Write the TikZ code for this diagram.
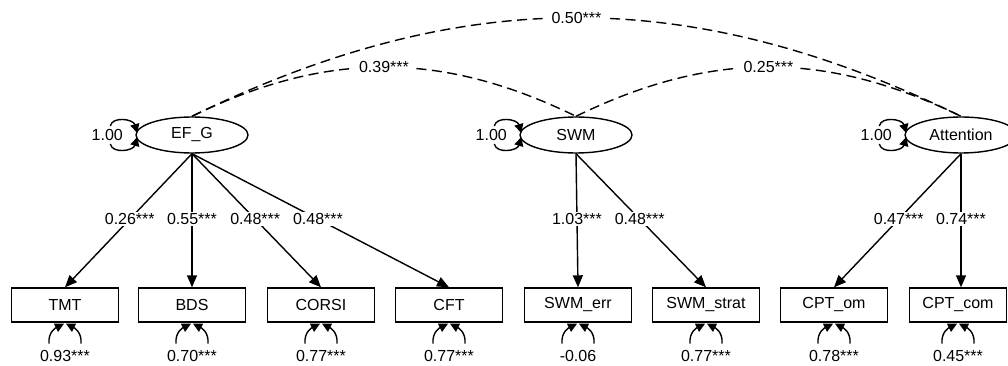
\documentclass[tikz,border=0pt]{standalone}
\usepackage{fontspec}
\setmainfont{Liberation Sans}
\usetikzlibrary{shapes.geometric,arrows.meta,calc}

% residual variance: two open arcs under a box, value printed below
\newcommand\resloop[2]{%
  \draw[resid] ($(#1.south)+(-16,21)$) .. controls +(-1,-12) and +(-8,4) .. ($(#1.south)+(-1,1)$);
  \draw[resid] ($(#1.south)+(16,21)$) .. controls +(1,-12) and +(8,4) .. ($(#1.south)+(1,1)$);
  \node (#1-var) at ($(#1.south)+(0,33)$) {#2};}
% latent variance: two open arcs left of an ellipse, value printed between
\newcommand\varloop[2]{%
  \draw[resid] ($(#1.west)+(-25,-9)$) .. controls +(2,-10) and +(-4,-14) .. ($(#1.west)+(2,-2)$);
  \draw[resid] ($(#1.west)+(-25,9)$) .. controls +(2,10) and +(-4,14) .. ($(#1.west)+(2,2)$);
  \node (#1-var) at ($(#1.west)+(-28,0)$) {#2};}

\begin{document}
\begin{tikzpicture}[x=1pt,y=-1pt,
  every node/.style={font=\fontsize{16}{19}\selectfont},
  latent/.style={draw,ellipse,line width=1.4pt,minimum width=112pt,minimum height=36pt,inner sep=0pt},
  manifest/.style={draw,rectangle,line width=1.4pt,minimum width=107pt,minimum height=34pt,inner sep=0pt},
  load/.style={line width=1.4pt,-{Triangle[length=12pt,width=10pt]}},
  cov/.style={line width=1.4pt,dash pattern=on 10pt off 5.5pt},
  lab/.style={fill=white,inner sep=1.5pt},
  covlab/.style={fill=white,inner xsep=6pt,inner ysep=2pt},
  resid/.style={line width=1.4pt,-{Triangle[length=9pt,width=9pt]}},
]
\useasboundingbox (0,0) rectangle (1008,366);
\clip (0,0) rectangle (1008,366);

% latent factors
\node[latent] (efg) at (192,135) {EF\_G};
\node[latent] (swm) at (576,135) {SWM};
\node[latent] (att) at (961,135) {Attention};

% observed indicators
\node[manifest] (tmt)      at (65,305)  {TMT};
\node[manifest] (bds)      at (192,305) {BDS};
\node[manifest] (corsi)    at (321,305) {CORSI};
\node[manifest] (cft)      at (449,305) {CFT};
\node[manifest] (swmerr)   at (578,305) {SWM\_err};
\node[manifest] (swmstrat) at (706,305) {SWM\_strat};
\node[manifest] (cptom)    at (834,305) {CPT\_om};
\node[manifest,minimum width=97pt] (cptcom) at (958,305) {CPT\_com};

% factor covariances
\draw[cov] (efg.north) to[bend left=26] node[covlab]{0.50***} (att.north);
\draw[cov] (efg.north) to[bend left=26] node[covlab]{0.39***} (swm.north);
\draw[cov] (swm.north) to[bend left=26] node[covlab]{0.25***} (att.north);

% loadings
\draw[load] (efg.south) -- node[lab,pos=0.49]{0.26***} (tmt.north);
\draw[load] (efg.south) -- node[lab,pos=0.49]{0.55***} (bds.north);
\draw[load] (efg.south) -- node[lab,pos=0.49]{0.48***} (corsi.north);
\draw[load] (efg.south) -- node[lab,pos=0.49]{0.48***} (cft.north);
\draw[load] (swm.south) -- node[lab,pos=0.49]{1.03***} (swmerr.north);
\draw[load] (swm.south) -- node[lab,pos=0.49]{0.48***} (swmstrat.north);
\draw[load] (att.south) -- node[lab,pos=0.49]{0.47***} (cptom.north);
\draw[load] (att.south) -- node[lab,pos=0.49]{0.74***} (att.south |- cptcom.north);

% variances
\varloop{efg}{1.00}
\varloop{swm}{1.00}
\varloop{att}{1.00}
\resloop{tmt}{0.93***}
\resloop{bds}{0.70***}
\resloop{corsi}{0.77***}
\resloop{cft}{0.77***}
\resloop{swmerr}{-0.06}
\resloop{swmstrat}{0.77***}
\resloop{cptom}{0.78***}
\resloop{cptcom}{0.45***}
\end{tikzpicture}
\end{document}
